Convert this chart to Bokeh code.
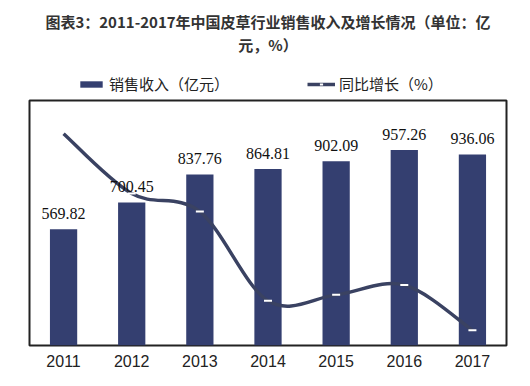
from bokeh.plotting import figure
from bokeh.layouts import column
from bokeh.models import (ColumnDataSource, Range1d, FixedTicker, Title, Legend,
                          LegendItem, LabelSet, Spacer)
from bokeh.embed import file_html
from bokeh.resources import INLINE

# ---- data ----
years = ["2011", "2012", "2013", "2014", "2015", "2016", "2017"]
revenue = [569.82, 700.45, 837.76, 864.81, 902.09, 957.26, 936.06]
growth = [33.9, 22.9, 19.6, 3.2, 4.3, 6.1, -2.2]
title_lines = ["图表3：2011-2017年中国皮草行业销售收入及增长情况（单位：亿", "元，%）"]
series_names = ["销售收入（亿元）", "同比增长（%）"]

CJK = "Noto Sans CJK SC"
LAT = "Liberation Sans"
BAR = "#343f70"
LINE = "#3a4262"
LINE_W = 3.5
W = 530

xs = list(range(1, len(years) + 1))
src = ColumnDataSource(dict(x=xs, top=revenue, g=growth,
                            lbl=[f"{v:.2f}" for v in revenue]))

# ---------------- main chart ----------------
p = figure(width=W, height=280, x_range=Range1d(0.5, len(years) + 0.5),
           y_range=Range1d(0, 1200), y_axis_location=None, title=None,
           output_backend="svg", toolbar_location=None,
           min_border_left=29, min_border_right=24, min_border_bottom=33,
           min_border_top=2)
p.extra_y_ranges = {"g": Range1d(-5, 40)}
p.background_fill_color = "white"
p.border_fill_color = "white"
p.outline_line_color = "#222222"
p.outline_line_width = 2
p.xgrid.visible = False
p.ygrid.visible = False

p.vbar(x="x", top="top", width=0.4, source=src, fill_color=BAR, line_color=None)

# smooth line through growth points (Catmull-Rom -> cubic Bezier)
n = len(xs)
x0, y0, x1, y1, cx0, cy0, cx1, cy1 = ([] for _ in range(8))
for i in range(n - 1):
    a = i - 1 if i > 0 else i
    d = i + 2 if i + 2 < n else i + 1
    x0.append(xs[i]); y0.append(growth[i])
    x1.append(xs[i + 1]); y1.append(growth[i + 1])
    cx0.append(xs[i] + (xs[i + 1] - xs[a]) / 6)
    cy0.append(growth[i] + (growth[i + 1] - growth[a]) / 6)
    cx1.append(xs[i + 1] - (xs[d] - xs[i]) / 6)
    cy1.append(growth[i + 1] - (growth[d] - growth[i]) / 6)
p.bezier(x0=x0, y0=y0, x1=x1, y1=y1, cx0=cx0, cy0=cy0, cx1=cx1, cy1=cy1,
         line_color=LINE, line_width=LINE_W, y_range_name="g")
p.scatter(x=xs[1:], y=growth[1:], marker="dash", size=8,
          line_color="white", line_width=2, y_range_name="g")

labels = LabelSet(x="x", y="top", text="lbl", source=src, text_align="center",
                  text_baseline="bottom", y_offset=10, text_font=LAT,
                  text_font_size="16px", text_color="#111111")
p.add_layout(labels)

p.xaxis.ticker = FixedTicker(ticks=xs)
p.xaxis.major_label_overrides = {x: y for x, y in zip(xs, years)}
p.xaxis.axis_line_color = None
p.xaxis.major_tick_line_color = None
p.xaxis.minor_tick_line_color = None
p.xaxis.major_tick_out = 0
p.xaxis.major_label_standoff = 9
p.xaxis.major_label_text_font = LAT
p.xaxis.major_label_text_font_size = "16px"
p.xaxis.major_label_text_color = "#222222"

# ---------------- header: title + legend ----------------
h = figure(width=W, height=85, x_range=Range1d(0, 1), y_range=Range1d(0, 1),
           x_axis_location=None, y_axis_location=None,
           output_backend="svg", toolbar_location=None,
           min_border_left=29, min_border_right=24, min_border_bottom=0,
           min_border_top=0)
h.outline_line_color = None
h.xgrid.visible = False
h.ygrid.visible = False
h.background_fill_color = "white"
h.border_fill_color = "white"

# hidden renderers that only lend their styles to the legend swatches
lb = h.vbar(x="x", top="top", width=0.4, source=src, fill_color=BAR,
            line_color=None, visible=False)
ll = h.line(x="x", y="g", source=src, line_color=LINE, line_width=LINE_W,
            visible=False)
lm = h.scatter(x="x", y="g", source=src, marker="dash", size=8,
               line_color="white", line_width=2, visible=False)

legend = Legend(items=[LegendItem(label=series_names[0], renderers=[lb]),
                       LegendItem(label=series_names[1], renderers=[ll, lm])],
                orientation="horizontal", location=(48, 4), margin=0, padding=0,
                label_text_font=CJK, label_text_font_size="15px",
                label_text_color="#222222", glyph_width=28, glyph_height=8,
                spacing=78, label_standoff=4, border_line_color=None,
                background_fill_alpha=0, inactive_fill_alpha=0)
h.add_layout(legend)

h.title.text = title_lines[0]
h.title.standoff = -9
h.add_layout(Title(text=title_lines[1], standoff=9), "above")
for t in [h.title] + [a for a in h.above if isinstance(a, Title)]:
    t.align = "center"
    t.offset = -7
    t.text_font = CJK
    t.text_font_size = "15px"
    t.text_font_style = "bold"
    t.text_color = "#333333"

layout = column(Spacer(width=W, height=13), h, p, spacing=0)
open("out.html", "w").write(file_html(layout, INLINE))
